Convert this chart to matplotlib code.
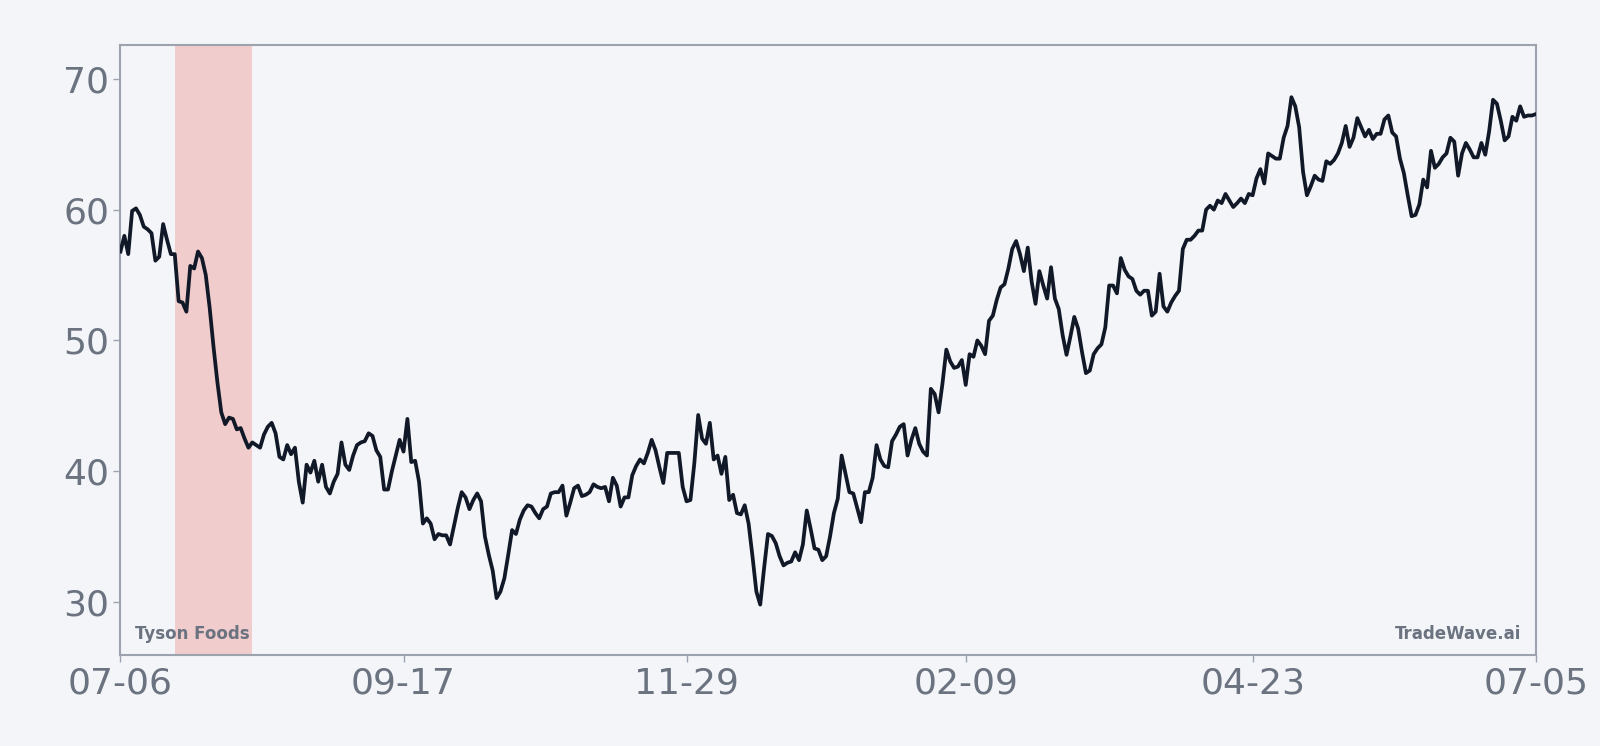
import numpy as np
import pandas as pd
import matplotlib
matplotlib.use("Agg")
import matplotlib.pyplot as plt
import matplotlib.dates as mdates

# daily closing prices, 2023-07-06 .. 2024-07-05
start_date = "2023-07-06"
prices = [
    56.8, 58.0, 56.6, 59.9, 60.1, 59.6, 58.7, 58.5, 58.2, 56.1,
    56.4, 58.9, 57.7, 56.6, 56.6, 53.0, 52.9, 52.2, 55.7, 55.5,
    56.8, 56.3, 55.0, 52.5, 49.5, 46.8, 44.5, 43.6, 44.1, 44.0,
    43.2, 43.3, 42.5, 41.8, 42.2, 42.0, 41.8, 42.8, 43.4, 43.7,
    42.9, 41.1, 40.9, 42.0, 41.3, 41.8, 39.2, 37.6, 40.5, 39.9,
    40.8, 39.2, 40.5, 38.8, 38.3, 39.2, 39.8, 42.2, 40.5, 40.1,
    41.2, 42.0, 42.2, 42.3, 42.9, 42.7, 41.6, 41.1, 38.6, 38.6,
    40.0, 41.2, 42.4, 41.5, 44.0, 40.7, 40.8, 39.2, 36.0, 36.4,
    36.0, 34.8, 35.2, 35.1, 35.1, 34.4, 35.8, 37.2, 38.4, 38.0,
    37.1, 37.8, 38.3, 37.7, 35.0, 33.6, 32.4, 30.3, 30.8, 31.8,
    33.6, 35.5, 35.2, 36.3, 37.0, 37.4, 37.3, 36.8, 36.4, 37.1,
    37.3, 38.3, 38.4, 38.4, 38.9, 36.6, 37.6, 38.7, 38.9, 38.1,
    38.2, 38.4, 39.0, 38.8, 38.7, 38.8, 37.7, 39.5, 38.9, 37.3,
    38.0, 38.0, 39.7, 40.4, 40.9, 40.6, 41.4, 42.4, 41.6, 40.3,
    39.1, 41.4, 41.4, 41.4, 41.4, 38.8, 37.7, 37.8, 40.6, 44.3,
    42.5, 42.1, 43.7, 40.9, 41.2, 39.8, 41.1, 37.8, 38.2, 36.8,
    36.7, 37.4, 36.0, 33.5, 30.8, 29.8, 32.6, 35.2, 35.05, 34.5,
    33.5, 32.8, 33.0, 33.1, 33.8, 33.2, 34.4, 37.0, 35.6, 34.1,
    34.0, 33.2, 33.5, 35.0, 36.8, 37.9, 41.2, 39.8, 38.4, 38.3,
    37.2, 36.1, 38.4, 38.4, 39.5, 42.0, 40.9, 40.4, 40.3, 42.3,
    42.8, 43.4, 43.6, 41.2, 42.4, 43.3, 42.1, 41.5, 41.2, 46.3,
    45.9, 44.5, 46.7, 49.3, 48.4, 47.9, 48.0, 48.5, 46.6, 48.95,
    48.75, 50.0, 49.6, 48.95, 51.5, 51.9, 53.1, 54.05, 54.3, 55.5,
    57.0, 57.6, 56.6, 55.3, 57.1, 54.5, 52.8, 55.3, 54.2, 53.2,
    55.6, 53.2, 52.4, 50.4, 48.9, 50.3, 51.8, 50.9, 49.1, 47.5,
    47.7, 48.95, 49.4, 49.7, 51.0, 54.2, 54.2, 53.6, 56.3, 55.4,
    54.9, 54.7, 53.8, 53.5, 53.8, 53.8, 51.9, 52.2, 55.1, 52.6,
    52.2, 52.9, 53.4, 53.8, 57.0, 57.7, 57.7, 58.0, 58.4, 58.4,
    60.0, 60.3, 60.0, 60.7, 60.5, 61.2, 60.7, 60.2, 60.5, 60.85,
    60.5, 61.2, 61.1, 62.4, 63.1, 62.0, 64.3, 64.1, 63.9, 63.9,
    65.5, 66.4, 68.6, 67.9, 66.3, 62.9, 61.1, 61.8, 62.6, 62.3,
    62.2, 63.7, 63.5, 63.8, 64.3, 65.1, 66.4, 64.8, 65.5, 67.0,
    66.3, 65.6, 66.1, 65.4, 65.8, 65.8, 66.9, 67.2, 65.9, 65.6,
    63.9, 62.8, 61.1, 59.5, 59.6, 60.4, 62.3, 61.7, 64.5, 63.2,
    63.5, 64.0, 64.3, 65.5, 65.2, 62.6, 64.3, 65.1, 64.6, 64.0,
    64.0, 65.1, 64.2, 66.0, 68.4, 68.1, 66.8, 65.3, 65.6, 67.1,
    66.8, 67.9, 67.1, 67.2, 67.2, 67.3,
]
highlight = ("2023-07-20", "2023-08-09")
tick_dates = ["2023-07-06", "2023-09-17", "2023-11-29",
              "2024-02-09", "2024-04-23", "2024-07-05"]
y_ticks = [30, 40, 50, 60, 70]

dates = pd.date_range(start_date, periods=len(prices), freq="D")

bg = "#f3f5f8"
grey = "#6b7280"
spine = "#9ca3af"

fig = plt.figure(figsize=(16, 7.46), dpi=100, facecolor=bg)
ax = fig.add_axes([0.0753, 0.122, 0.8845, 0.8175])
ax.set_facecolor(bg)

ax.axvspan(pd.Timestamp(highlight[0]), pd.Timestamp(highlight[1]),
           color="#f0cccd", lw=0, zorder=1)
ax.plot(dates, prices, color="#111827", lw=2.7, zorder=3)

ax.set_xlim(dates[0], dates[-1])
ax.set_ylim(25.95, 72.58)

ax.set_xticks([pd.Timestamp(d) for d in tick_dates])
ax.xaxis.set_major_formatter(mdates.DateFormatter("%m-%d"))
ax.set_yticks(y_ticks)

ax.tick_params(axis="both", colors=spine, labelcolor=grey, labelsize=26,
               length=5, width=1)
ax.tick_params(axis="x", pad=3)
ax.tick_params(axis="y", pad=3)

for s in ax.spines.values():
    s.set_color(spine)
    s.set_linewidth(1.5)

ax.text(0.01, 0.02, "Tyson Foods", transform=ax.transAxes, fontsize=12,
        fontweight="bold", color=grey, ha="left", va="bottom")
ax.text(0.99, 0.02, "TradeWave.ai", transform=ax.transAxes, fontsize=12,
        fontweight="bold", color=grey, ha="right", va="bottom")

fig.savefig("out.png", dpi=100, facecolor=bg)
